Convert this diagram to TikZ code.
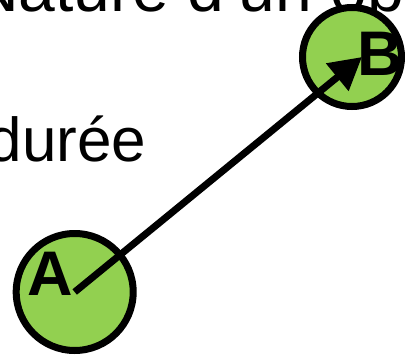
\documentclass[tikz,border=0pt]{standalone}
\usepackage{fontspec}
\setmainfont{Liberation Sans}
\usetikzlibrary{arrows.meta}
\definecolor{lgreen}{HTML}{92D050}
\begin{document}
\begin{tikzpicture}[x=1pt,y=-1pt,
  pt/.style={circle,draw=black,fill=lgreen,line width=7pt,inner sep=0pt},
  big/.style={font=\fontsize{66}{79}\selectfont,inner sep=0pt},
  mid/.style={font=\fontsize{62}{74}\selectfont,inner sep=0pt},
  letter/.style={font=\fontsize{63}{75}\selectfont\bfseries,inner sep=0pt},
  vec/.style={line width=7pt,-{Triangle[length=32pt,width=34pt]}}]
\useasboundingbox (0,0) rectangle (405,356);
\clip (0,0) rectangle (405,356);
\node[big,anchor=base west] (t1) at (-29,12) {Nature d'un ob};
\node[mid,anchor=base west] (t2) at (-12.5,161) {durée};
\node[pt,minimum size=117pt] (A) at (74.7,292) {};
\node[pt,minimum size=99pt] (B) at (352,57) {};
\node[letter,anchor=base west] (la) at (27,295) {A};
\node[letter,anchor=base west] (lb) at (357.5,75) {B};
\coordinate (tipB) at (362,57);
\draw[vec] (A.center) -- (tipB);
\end{tikzpicture}
\end{document}
